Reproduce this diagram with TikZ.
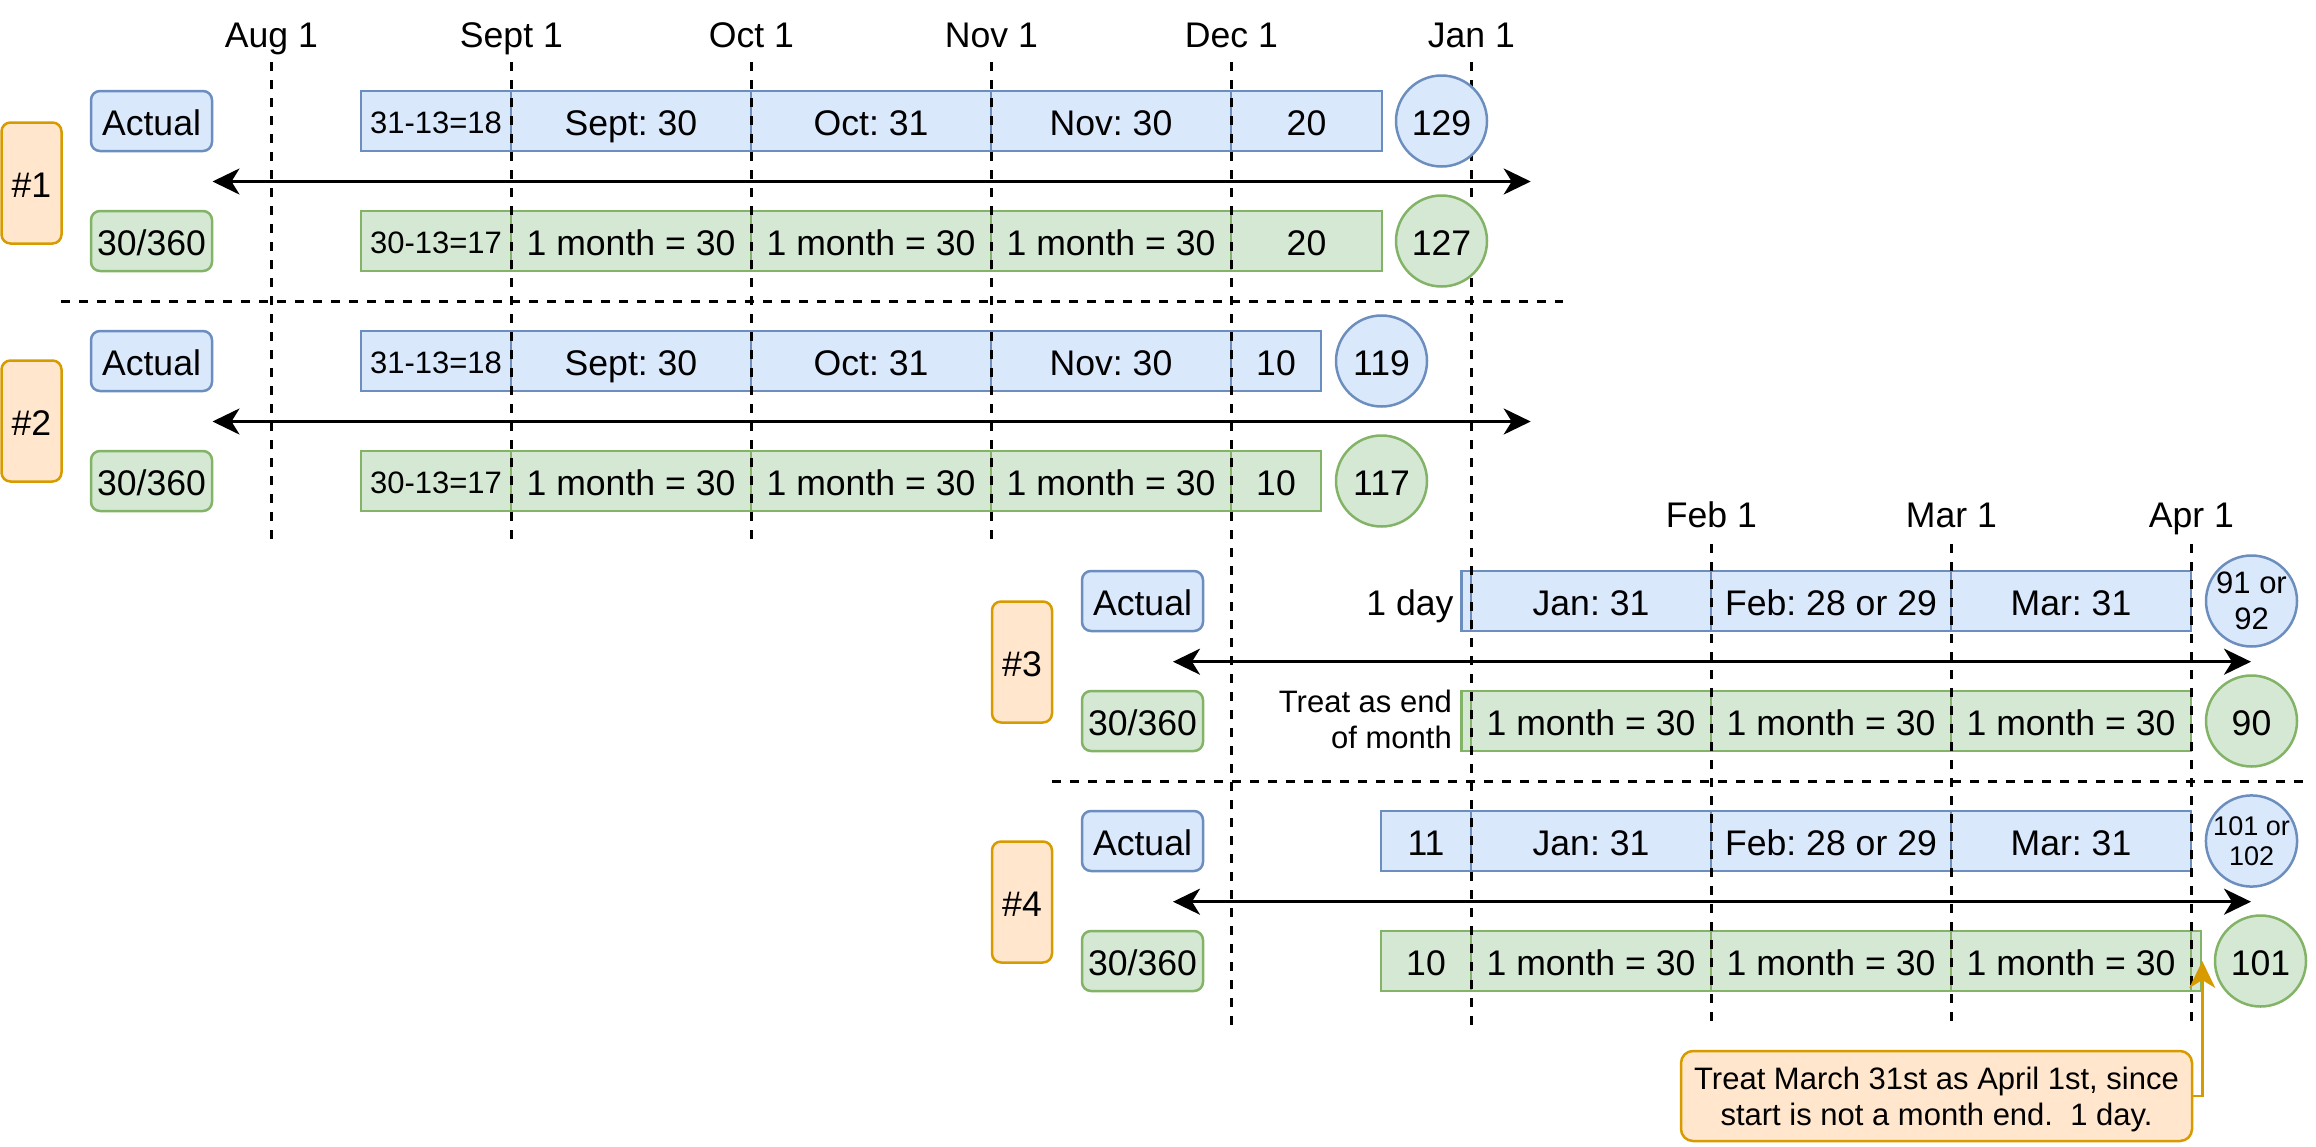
\documentclass[tikz,border=0pt]{standalone}
\usepackage{fontspec}
\setmainfont{Liberation Sans}
\usetikzlibrary{arrows.meta}
\frenchspacing
\definecolor{actualfill}{HTML}{DAE8FC}
\definecolor{actualline}{HTML}{6C8EBF}
\definecolor{thirtyfill}{HTML}{D5E8D4}
\definecolor{thirtyline}{HTML}{82B366}
\definecolor{notefill}{HTML}{FFE6CC}
\definecolor{noteline}{HTML}{D79B00}
\tikzset{
    bigfont/.style={font=\fontsize{35.6}{41}\selectfont, text height=33pt, text depth=5pt},
    midfont/.style={font=\fontsize{31}{36}\selectfont, text height=28.7pt, text depth=4.3pt},
    smallfont/.style={font=\fontsize{27}{30.6}\selectfont, text height=25pt, text depth=3.8pt},
    lines/.style={text height={}, text depth=0pt},
    actual/.style={draw=actualline, fill=actualfill, line width=2.5pt},
    thirty/.style={draw=thirtyline, fill=thirtyfill, line width=2.5pt},
    seg/.style={rectangle, minimum width=240pt, minimum height=60pt, inner sep=0pt, bigfont},
    method/.style={rectangle, rounded corners=9pt, minimum width=121pt, minimum height=60pt, inner sep=0pt, bigfont},
    example/.style={rectangle, rounded corners=9pt, draw=noteline, fill=notefill, line width=2.5pt,
        minimum width=60pt, minimum height=121pt, inner sep=0pt, bigfont},
    total/.style={circle, minimum size=91pt, inner sep=0pt, align=center, bigfont},
    dateline/.style={line width=3pt, dash pattern=on 9pt off 9pt},
    span/.style={<->, line width=3pt},
}
\begin{document}
\begin{tikzpicture}[x=1pt, y=-1pt, >={Stealth[length=27pt,width=26pt,inset=8pt]}]
        \useasboundingbox (0,0) rectangle (2316,1146);
        % Define the nodes for the dates
        \node[bigfont] (aug) at (271.4,33)  {Aug 1};
        \node[bigfont] (sep) at (511.4,33)  {Sept 1};
        \node[bigfont] (oct) at (751.4,33)  {Oct 1};
        \node[bigfont] (nov) at (991.4,33)  {Nov 1};
        \node[bigfont] (dec) at (1231.4,33) {Dec 1};
        \node[bigfont] (jan) at (1471.4,33) {Jan 1};
        \node[bigfont] (feb) at (1711.4,513) {Feb 1};
        \node[bigfont] (mar) at (1951.4,513) {Mar 1};
        \node[bigfont] (apr) at (2191.4,513) {Apr 1};
        % Define the nodes for #1
        \node[seg,actual,minimum width=150pt,midfont] (a1d) at (436,121)    {31-13=18};
        \node[seg,actual]                             (a1s) at (631,121)    {Sept: 30};
        \node[seg,actual]                             (a1o) at (871,121)    {Oct: 31};
        \node[seg,actual]                             (a1n) at (1111,121)   {Nov: 30};
        \node[seg,actual,minimum width=151pt]         (a1e) at (1306.5,121) {20};
        \node[seg,thirty,minimum width=150pt,midfont] (t1d) at (436,241)    {30-13=17};
        \node[seg,thirty]                             (t1s) at (631,241)    {1 month = 30};
        \node[seg,thirty]                             (t1o) at (871,241)    {1 month = 30};
        \node[seg,thirty]                             (t1n) at (1111,241)   {1 month = 30};
        \node[seg,thirty,minimum width=151pt]         (t1e) at (1306.5,241) {20};
        % Define the nodes for #2
        \node[seg,actual,minimum width=150pt,midfont] (a2d) at (436,361)  {31-13=18};
        \node[seg,actual]                             (a2s) at (631,361)  {Sept: 30};
        \node[seg,actual]                             (a2o) at (871,361)  {Oct: 31};
        \node[seg,actual]                             (a2n) at (1111,361) {Nov: 30};
        \node[seg,actual,minimum width=90pt]          (a2e) at (1276,361) {10};
        \node[seg,thirty,minimum width=150pt,midfont] (t2d) at (436,481)  {30-13=17};
        \node[seg,thirty]                             (t2s) at (631,481)  {1 month = 30};
        \node[seg,thirty]                             (t2o) at (871,481)  {1 month = 30};
        \node[seg,thirty]                             (t2n) at (1111,481) {1 month = 30};
        \node[seg,thirty,minimum width=90pt]          (t2e) at (1276,481) {10};
        % Define the nodes for #3
        \node[seg,actual,minimum width=10pt] (a3d) at (1466.5,601) {};
        \node[seg,actual]                    (a3j) at (1591,601)   {Jan: 31};
        \node[seg,actual]                    (a3f) at (1831,601)   {Feb: 28 or 29};
        \node[seg,actual]                    (a3m) at (2071,601)   {Mar: 31};
        \node[seg,thirty,minimum width=10pt] (t3d) at (1466.5,721) {};
        \node[seg,thirty]                    (t3j) at (1591,721)   {1 month = 30};
        \node[seg,thirty]                    (t3f) at (1831,721)   {1 month = 30};
        \node[seg,thirty]                    (t3m) at (2071,721)   {1 month = 30};
        \node[bigfont,anchor=east] (oneday) at (1457,601) {1 day};
        \node[midfont,lines,anchor=east,align=right,inner sep=0pt] (endmonth) at (1452,719) {Treat as end\\of month};
        % Define the nodes for #4
        \node[seg,actual,minimum width=90pt] (a4d) at (1426,841)   {11};
        \node[seg,actual]                    (a4j) at (1591,841)   {Jan: 31};
        \node[seg,actual]                    (a4f) at (1831,841)   {Feb: 28 or 29};
        \node[seg,actual]                    (a4m) at (2071,841)   {Mar: 31};
        \node[seg,thirty,minimum width=90pt] (t4d) at (1426,961)   {10};
        \node[seg,thirty]                    (t4j) at (1591,961)   {1 month = 30};
        \node[seg,thirty]                    (t4f) at (1831,961)   {1 month = 30};
        \node[seg,thirty]                    (t4m) at (2071,961)   {1 month = 30};
        \node[seg,thirty,minimum width=10pt] (t4x) at (2196,961)   {};
        % Dashed lines for the month starts and the cases
        \draw[dateline] (271.4,62)  -- (271.4,541);
        \draw[dateline] (511.4,62)  -- (511.4,541);
        \draw[dateline] (751.4,62)  -- (751.4,541);
        \draw[dateline] (991.4,62)  -- (991.4,541);
        \draw[dateline] (1231.4,62) -- (1231.4,1025);
        \draw[dateline] (1471.4,62) -- (1471.4,1025);
        \draw[dateline] (1711.4,544) -- (1711.4,1025);
        \draw[dateline] (1951.4,544) -- (1951.4,1025);
        \draw[dateline] (2191.4,544) -- (2191.4,1025);
        \draw[dateline] (61,301.5) -- (1563,301.5);
        \draw[dateline] (1052,781.7) -- (2308,781.7);
        % Define the nodes for the methods and totals
        \node[example] (ex1) at (31.5,183)  {\#1};
        \node[example] (ex2) at (31.5,421)  {\#2};
        \node[example] (ex3) at (1022,662)  {\#3};
        \node[example] (ex4) at (1022,902)  {\#4};
        \node[method,actual] (act1) at (151.5,121)  {Actual};
        \node[method,thirty] (thr1) at (151.5,241)  {30/360};
        \node[method,actual] (act2) at (151.5,361)  {Actual};
        \node[method,thirty] (thr2) at (151.5,481)  {30/360};
        \node[method,actual] (act3) at (1142.5,601) {Actual};
        \node[method,thirty] (thr3) at (1142.5,721) {30/360};
        \node[method,actual] (act4) at (1142.5,841) {Actual};
        \node[method,thirty] (thr4) at (1142.5,961) {30/360};
        \node[total,actual]                 (tot1a) at (1441.5,121) {129};
        \node[total,thirty]                 (tot1t) at (1441.5,241) {127};
        \node[total,actual]                 (tot2a) at (1381.5,361) {119};
        \node[total,thirty]                 (tot2t) at (1381.5,481) {117};
        \node[total,actual,midfont,lines]   (tot3a) at (2251.5,601) {91 or\\92};
        \node[total,thirty]                 (tot3t) at (2251.5,721) {90};
        \node[total,actual,smallfont,lines] (tot4a) at (2251.5,841) {101 or\\102};
        \node[total,thirty]                 (tot4t) at (2260.5,961) {101};
        % Connect the span arrows
        \coordinate (s1l) at (212.5,181.5);  \coordinate (s1r) at (1530.7,181.5);
        \coordinate (s2l) at (212.5,421.5);  \coordinate (s2r) at (1530.7,421.5);
        \coordinate (s3l) at (1173,661.7);   \coordinate (s3r) at (2251,661.7);
        \coordinate (s4l) at (1173,901.7);   \coordinate (s4r) at (2251,901.7);
        \draw[span] (s1l) -- (s1r);
        \draw[span] (s2l) -- (s2r);
        \draw[span] (s3l) -- (s3r);
        \draw[span] (s4l) -- (s4r);
        % The note for #4
        \node[rectangle,rounded corners=12pt,draw=noteline,fill=notefill,line width=2.5pt,
            minimum width=511pt,minimum height=90pt,align=center,midfont,lines] (note) at (1936.5,1096)
            {Treat March 31st as April 1st, since\\start is not a month end.\ \ 1 day.};
        \draw[->,noteline,line width=2.5pt] (note.east) -| (t4x.east);
    \end{tikzpicture}
\end{document}
